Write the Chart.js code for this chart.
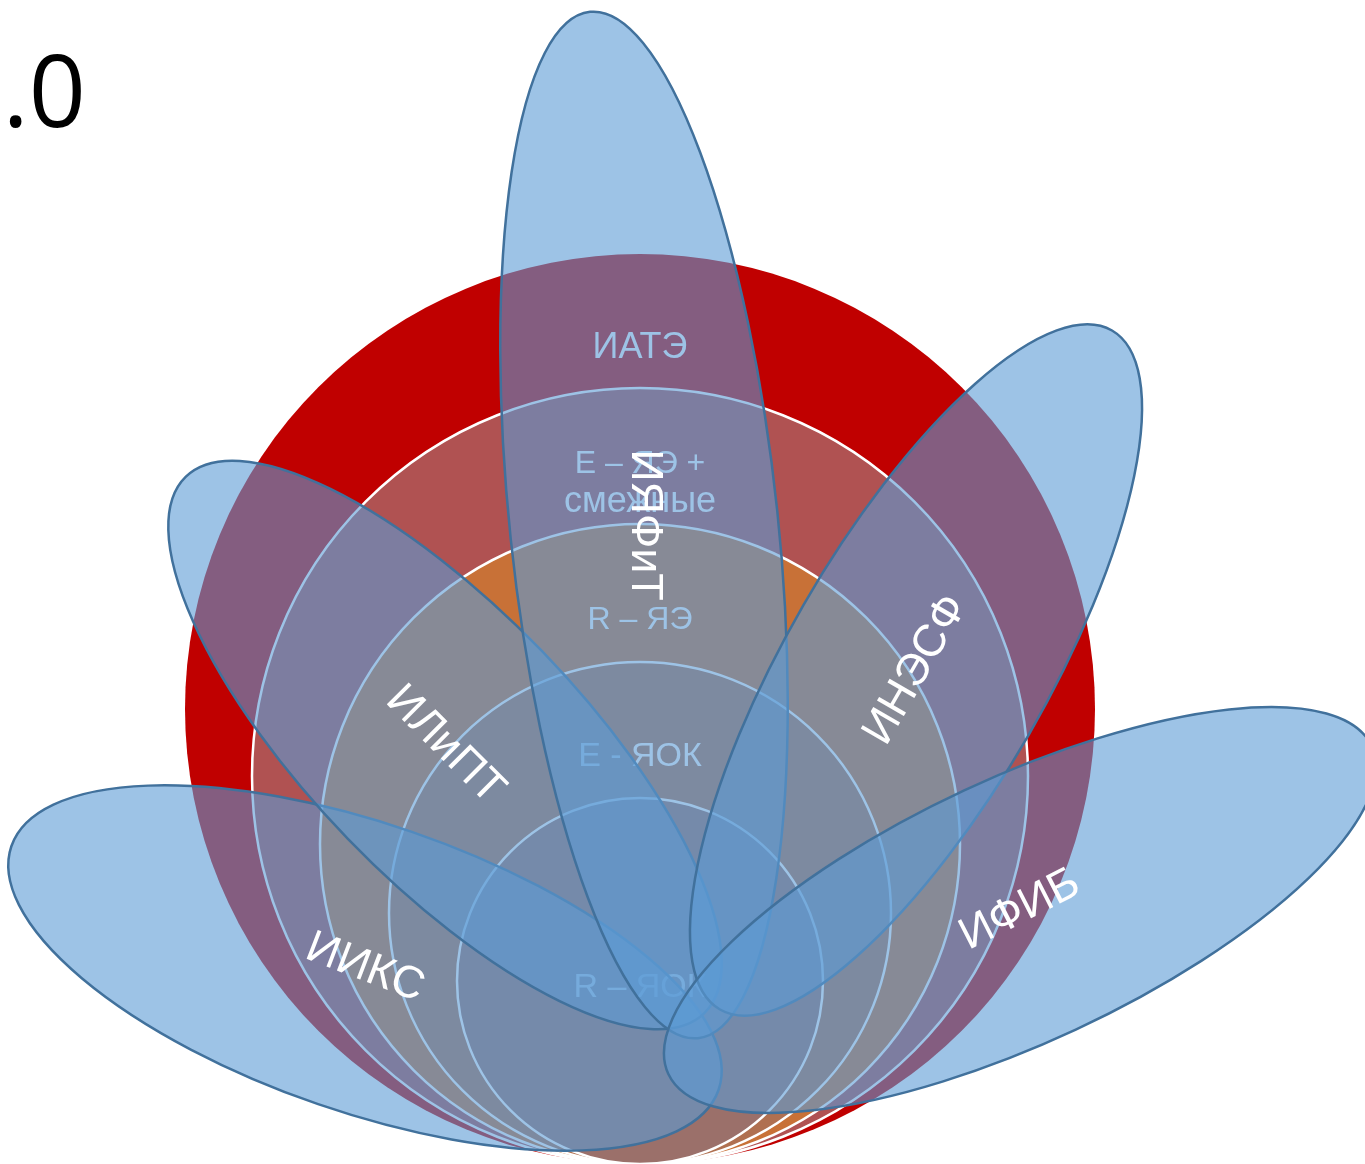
<!DOCTYPE html>
<html>
<head>
<meta charset="utf-8">
<script src="https://cdn.jsdelivr.net/npm/chart.js@4.4.1/dist/chart.umd.min.js"></script>
<style>
html,body{margin:0;padding:0;background:#fff;overflow:hidden}
canvas{display:block}
</style>
</head>
<body>
<canvas id="flowerChart" width="1365" height="1164"></canvas>
<script>
// rings, outside to inside; all rings touch at the bottom point (0,0)
const ringNames = ['ИАТЭ', 'E – ЯЭ +|смежные', 'R – ЯЭ', 'E - ЯОК', 'R – ЯОК'];
const ringRadius = [455, 388, 320, 251, 183];

// petals: centre, half length, half width, direction of the outer tip (deg)
const petalNames = ['ИИКС', 'ИЛиПТ', 'ИЯФиТ', 'ИНЭСФ', 'ИФИБ'];
const petalCenterX = [-275, -195, 4, 276, 380];
const petalCenterY = [196, 419, 639, 494, 254];
const petalLength = [374, 373, 516, 392, 388];
const petalWidth = [144, 135, 134, 130, 132];
const petalAngle = [161, 134, 96, 60, 25];

const flowerPlugin = {
  id: 'flower',
  beforeDatasetsDraw(chart, args, opts) {
    const ctx = chart.ctx;
    const x = chart.scales.x, y = chart.scales.y;
    const px = v => x.getPixelForValue(v);
    const py = v => y.getPixelForValue(v);
    const len = v => Math.abs(x.getPixelForValue(v) - x.getPixelForValue(0));

    ctx.save();
    // rings
    ringRadius.forEach((r, i) => {
      ctx.beginPath();
      ctx.arc(px(0), py(r), len(r), 0, Math.PI * 2);
      ctx.fillStyle = opts.ringColors[i];
      ctx.fill();
      if (i > 0) {
        ctx.strokeStyle = '#ffffff';
        ctx.lineWidth = 2.5;
        ctx.stroke();
      }
    });

    // ring captions
    ctx.fillStyle = '#ffffff';
    ctx.textAlign = 'center';
    ctx.textBaseline = 'middle';
    ringNames.forEach((name, i) => {
      const r = ringRadius[i];
      let v;
      if (i < ringRadius.length - 1) v = r + ringRadius[i + 1] - 27;
      else v = r - 7;
      const lines = name.split('|');
      lines.forEach((ln, k) => {
        ctx.font = opts.ringFonts[i][k];
        ctx.fillText(ln, px(0), py(v) + (k - (lines.length - 1) / 2) * 38);
      });
    });

    // petals
    petalNames.forEach((n, i) => {
      ctx.beginPath();
      ctx.ellipse(px(petalCenterX[i]), py(petalCenterY[i]), len(petalLength[i]), len(petalWidth[i]),
        -petalAngle[i] * Math.PI / 180, 0, Math.PI * 2);
      ctx.fillStyle = 'rgba(91,155,213,0.6)';
      ctx.fill();
      ctx.strokeStyle = '#41719C';
      ctx.lineWidth = 2.5;
      ctx.stroke();
    });

    // petal captions
    ctx.font = '45px "Liberation Sans", Arial, sans-serif';
    ctx.fillStyle = '#ffffff';
    petalNames.forEach((n, i) => {
      ctx.save();
      ctx.translate(px(petalCenterX[i]), py(petalCenterY[i]));
      ctx.rotate(opts.labelTilt[i] * Math.PI / 180);
      ctx.fillText(n, 0, 0);
      ctx.restore();
    });

    // title fragment in the corner
    ctx.font = '100px "Open Sans", sans-serif';
    ctx.fillStyle = '#000000';
    ctx.textAlign = 'right';
    ctx.textBaseline = 'alphabetic';
    ctx.fillText('.0', 86, 127);
    ctx.restore();
  }
};

new Chart(document.getElementById('flowerChart'), {
  type: 'scatter',
  data: {
    datasets: [{
      label: 'petals',
      data: petalNames.map((n, i) => ({x: petalCenterX[i], y: petalCenterY[i]})),
      pointRadius: 0
    }]
  },
  options: {
    responsive: false,
    animation: false,
    devicePixelRatio: 1,
    layout: {padding: 0},
    events: [],
    plugins: {
      legend: {display: false},
      tooltip: {enabled: false},
      flower: {
        ringColors: ['#C00000', '#B05252', '#C87137', '#B07050', '#9B706A'],
        ringFonts: [
          ['36px "Liberation Sans", Arial, sans-serif'],
          ['32px "Liberation Sans", Arial, sans-serif', '36px "Liberation Sans", Arial, sans-serif'],
          ['32px "Liberation Sans", Arial, sans-serif'],
          ['34px "Liberation Sans", Arial, sans-serif'],
          ['34px "Liberation Sans", Arial, sans-serif']
        ],
        labelTilt: [21, 45, 90, -60, -27]
      }
    },
    scales: {
      x: {type: 'linear', min: -640, max: 725, display: false},
      y: {type: 'linear', min: 0, max: 1164, display: false}
    }
  },
  plugins: [flowerPlugin]
});
</script>
</body>
</html>
